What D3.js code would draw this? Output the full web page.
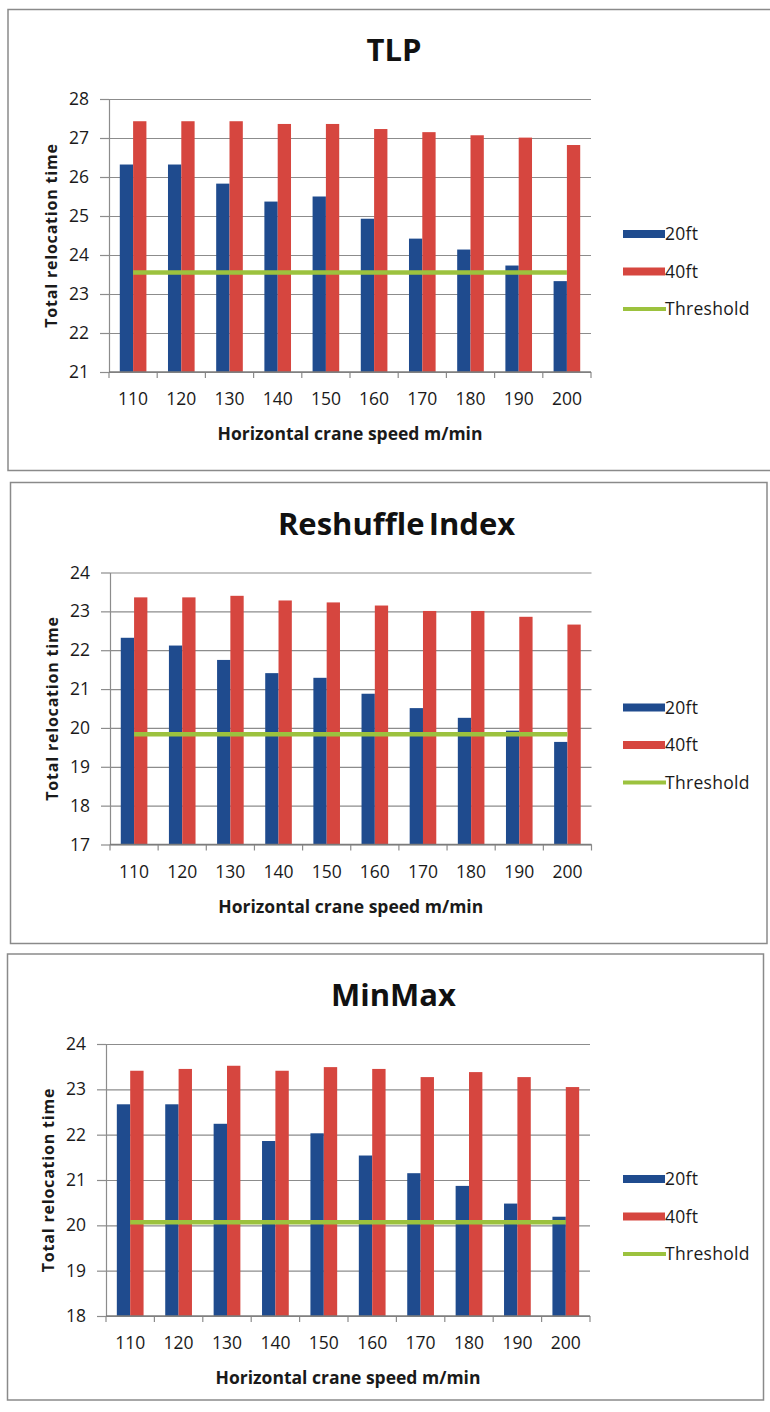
<!DOCTYPE html>
<html>
<head>
<meta charset="utf-8">
<script src="https://cdn.jsdelivr.net/npm/d3@7/dist/d3.min.js"></script>
<style>
  html, body { margin: 0; padding: 0; background: #fff; }
  svg { display: block; }
  text { font-family: "Open Sans", Lato, "Liberation Sans", sans-serif; }
</style>
</head>
<body>
<svg id="chart" width="770" height="1412"></svg>
<script>
// Horizontal crane speed (m/min)
const speeds = [110, 120, 130, 140, 150, 160, 170, 180, 190, 200];
const seriesNames = ["20ft", "40ft"];

// TLP heuristic
const tlp20 = [26.32, 26.32, 25.83, 25.37, 25.50, 24.93, 24.42, 24.14, 23.73, 23.33];
const tlp40 = [27.43, 27.43, 27.43, 27.36, 27.36, 27.23, 27.15, 27.07, 27.01, 26.82];
const tlpThreshold = 23.55;
const tlpTicks = [21, 22, 23, 24, 25, 26, 27, 28];

// Reshuffle Index heuristic
const ri20 = [22.32, 22.12, 21.75, 21.41, 21.29, 20.88, 20.51, 20.26, 19.93, 19.64];
const ri40 = [23.36, 23.36, 23.40, 23.28, 23.23, 23.15, 23.01, 23.01, 22.86, 22.66];
const riThreshold = 19.84;
const riTicks = [17, 18, 19, 20, 21, 22, 23, 24];

// MinMax heuristic
const mm20 = [22.67, 22.67, 22.24, 21.86, 22.03, 21.54, 21.15, 20.87, 20.48, 20.19];
const mm40 = [23.41, 23.45, 23.52, 23.41, 23.49, 23.45, 23.27, 23.38, 23.27, 23.05];
const mmThreshold = 20.07;
const mmTicks = [18, 19, 20, 21, 22, 23, 24];

const titles = ["TLP", "Reshuffle Index", "MinMax"];
const yTitle = "Total relocation time";
const xTitle = "Horizontal crane speed m/min";
const thresholdName = "Threshold";

const colors = { "20ft": "#1f4b8e", "40ft": "#d6463f", threshold: "#9cc23e" };

const panels = [
  { title: titles[0], s20: tlp20, s40: tlp40, threshold: tlpThreshold, ticks: tlpTicks,
    box: { x: 8, y: 9.5, w: 790, h: 461 }, plot: { left: 109, right: 591, top: 99, bottom: 372 } },
  { title: titles[1], s20: ri20, s40: ri40, threshold: riThreshold, ticks: riTicks,
    box: { x: 10.5, y: 482.5, w: 756.5, h: 461 }, plot: { left: 110, right: 591.5, top: 572.5, bottom: 844.5 } },
  { title: titles[2], s20: mm20, s40: mm40, threshold: mmThreshold, ticks: mmTicks,
    box: { x: 7.5, y: 954, w: 756, h: 446 }, plot: { left: 106, right: 590, top: 1044, bottom: 1316 } }
];

const svg = d3.select("#chart");

panels.forEach(p => {
  const g = svg.append("g");

  // chart frame
  g.append("rect")
    .attr("x", p.box.x).attr("y", p.box.y)
    .attr("width", p.box.w).attr("height", p.box.h)
    .attr("fill", "#fff").attr("stroke", "#8a8a8a").attr("stroke-width", 1.5);

  const { left, right, top, bottom } = p.plot;
  const ticks = p.ticks;

  const y = d3.scaleLinear().domain([ticks[0], ticks[ticks.length - 1]]).range([bottom, top]);
  const x0 = d3.scaleBand().domain(speeds).range([left, right]).padding(0);
  const x1 = d3.scaleBand().domain(seriesNames).range([0, x0.bandwidth()])
    .paddingInner(0).paddingOuter(0.81);

  // title
  g.append("text")
    .attr("x", p.box.x + 386).attr("y", top - 38)
    .attr("text-anchor", "middle")
    .attr("font-size", 31).attr("font-weight", 700).attr("fill", "#111")
    .attr("word-spacing", -4)
    .text(p.title);

  // horizontal gridlines
  g.append("g")
    .attr("transform", `translate(${left},0)`)
    .call(d3.axisLeft(y).tickValues(ticks).tickSize(-(right - left)).tickFormat(""))
    .call(a => a.select(".domain").remove())
    .call(a => a.selectAll(".tick line").attr("stroke", "#8c8c8c").attr("stroke-width", 1.2));

  // y axis with labels
  g.append("g")
    .attr("transform", `translate(${left},0)`)
    .call(d3.axisLeft(y).tickValues(ticks).tickSize(9).tickSizeOuter(0).tickPadding(11).tickFormat(d3.format("d")))
    .call(a => a.select(".domain").attr("stroke", "#8c8c8c").attr("stroke-width", 1.2))
    .call(a => a.selectAll(".tick line").attr("stroke", "#8c8c8c").attr("stroke-width", 1.2))
    .call(a => a.selectAll(".tick text")
      .attr("font-size", 17.5).attr("fill", "#1a1a1a")
      .style("font-family", "'Open Sans', Lato, sans-serif"));

  // bars
  const rows = speeds.map((s, i) => ({ speed: s, "20ft": p.s20[i], "40ft": p.s40[i] }));
  g.append("g").selectAll("g")
    .data(rows).join("g")
    .attr("transform", d => `translate(${x0(d.speed)},0)`)
    .selectAll("rect")
    .data(d => seriesNames.map(k => ({ key: k, value: d[k] })))
    .join("rect")
    .attr("x", d => x1(d.key))
    .attr("width", x1.bandwidth())
    .attr("y", d => y(d.value))
    .attr("height", d => y(ticks[0]) - y(d.value))
    .attr("fill", d => colors[d.key]);

  // x axis: boundary ticks between categories
  const bounds = speeds.map(s => x0(s)).concat([right]);
  g.append("g").selectAll("line")
    .data(bounds).join("line")
    .attr("x1", d => d).attr("x2", d => d)
    .attr("y1", bottom).attr("y2", bottom + 6)
    .attr("stroke", "#8c8c8c").attr("stroke-width", 1.2);
  g.append("line")
    .attr("x1", left).attr("x2", right).attr("y1", bottom).attr("y2", bottom)
    .attr("stroke", "#7c7c7c").attr("stroke-width", 1.4);

  // category labels
  g.append("g")
    .attr("transform", `translate(0,${bottom})`)
    .call(d3.axisBottom(x0).tickSize(0).tickPadding(21))
    .call(a => a.select(".domain").remove())
    .call(a => a.selectAll(".tick text")
      .attr("font-size", 17.5).attr("fill", "#1a1a1a")
      .style("font-family", "'Open Sans', Lato, sans-serif"));

  // threshold line
  const tLine = d3.line().x(d => x0(d) + x0.bandwidth() / 2).y(() => y(p.threshold));
  g.append("path")
    .datum([speeds[0], speeds[speeds.length - 1]])
    .attr("d", tLine)
    .attr("fill", "none").attr("stroke", colors.threshold).attr("stroke-width", 4.5);

  // axis titles
  g.append("text")
    .attr("x", (left + right) / 2).attr("y", bottom + 68)
    .attr("text-anchor", "middle")
    .attr("font-size", 17.5).attr("font-weight", 700).attr("fill", "#1a1a1a")
    .text(xTitle);
  g.append("text")
    .attr("transform", `translate(${left - 52},${(top + bottom) / 2}) rotate(-90)`)
    .attr("text-anchor", "middle")
    .attr("font-size", 16).attr("font-weight", 700).attr("fill", "#1a1a1a")
    .attr("letter-spacing", 0.8)
    .text(yTitle);

  // legend
  const lg = g.append("g").attr("transform", `translate(623,${top + 135})`);
  const items = [
    { label: seriesNames[0], type: "bar", color: colors["20ft"] },
    { label: seriesNames[1], type: "bar", color: colors["40ft"] },
    { label: thresholdName, type: "line", color: colors.threshold }
  ];
  const li = lg.selectAll("g").data(items).join("g")
    .attr("transform", (d, i) => `translate(0,${i * 37.5})`);
  li.filter(d => d.type === "bar").append("rect")
    .attr("x", 0).attr("y", -4).attr("width", 42).attr("height", 8)
    .attr("fill", d => d.color);
  li.filter(d => d.type === "line").append("line")
    .attr("x1", 0).attr("x2", 43).attr("y1", 0).attr("y2", 0)
    .attr("stroke", d => d.color).attr("stroke-width", 4);
  li.append("text")
    .attr("x", 42).attr("y", 0).attr("dy", "0.36em")
    .attr("font-size", 17.5).attr("fill", "#1a1a1a")
    .attr("letter-spacing", 0.3)
    .text(d => d.label);
});
</script>
</body>
</html>
